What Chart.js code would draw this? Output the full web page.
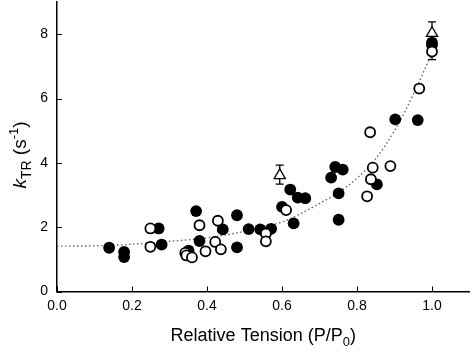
<!DOCTYPE html>
<html><head><meta charset="utf-8">
<script src="https://cdn.jsdelivr.net/npm/chart.js@4/dist/chart.umd.min.js"></script>
<style>html,body{margin:0;padding:0;background:#fff;}</style>
</head><body>
<canvas id="c" width="473" height="352"></canvas>
<script>
// Filled circles
const filledX = [0.139,0.179,0.179,0.271,0.279,0.351,0.371,0.380,0.442,0.480,0.480,0.511,0.542,0.571,0.600,0.622,0.642,0.662,0.631,0.742,0.762,0.731,0.751,0.751,0.853,0.902,0.962,1.000,1.000];
const filledY = [1.36,1.23,1.07,1.96,1.46,1.27,2.50,1.57,1.93,2.37,1.37,1.94,1.93,1.95,2.63,3.17,2.92,2.90,2.12,3.87,3.79,3.54,3.05,2.23,3.33,5.35,5.33,7.74,7.66];
// Open circles
const openX = [0.249,0.249,0.342,0.345,0.360,0.380,0.396,0.422,0.429,0.437,0.557,0.557,0.611,0.827,0.835,0.837,0.842,0.889,0.966,1.000];
const openY = [1.96,1.39,1.20,1.12,1.06,2.06,1.25,1.54,2.20,1.31,1.80,1.56,2.53,2.96,4.95,3.49,3.85,3.90,6.31,7.46];
// Open triangles with error bars
const triX = [0.594,1.000];
const triY = [3.61,8.03];
const triLow = [3.34,7.21];
const triHigh = [3.93,8.38];
// Dotted fit curve
const curveX = [0.0,0.1,0.2,0.3,0.4,0.5,0.6,0.65,0.7,0.75,0.8,0.85,0.9,0.95,1.0];
const curveY = [1.41,1.42,1.47,1.56,1.67,1.87,2.16,2.42,2.74,3.07,3.52,4.13,5.0,6.12,7.42];
// Axis ticks
const xTicks = [0.0,0.2,0.4,0.6,0.8,1.0];
const yTicks = [0,2,4,6,8];

const pts = (xs, ys) => xs.map((x,i)=>({x:x,y:ys[i]}));
const FONT = '"Liberation Sans", Arial, sans-serif';

const decor = {
  id:'decor',
  beforeDatasetsDraw(chart){
    const ctx = chart.ctx, xs = chart.scales.x, ys = chart.scales.y;
    ctx.save();
    ctx.strokeStyle = '#000'; ctx.lineWidth = 1.3;
    triX.forEach((x,i)=>{
      const px = xs.getPixelForValue(x);
      const lo = ys.getPixelForValue(triLow[i]), hi = ys.getPixelForValue(triHigh[i]);
      ctx.beginPath();
      ctx.moveTo(px, lo); ctx.lineTo(px, hi);
      ctx.moveTo(px-4, lo); ctx.lineTo(px+4, lo);
      ctx.moveTo(px-4, hi); ctx.lineTo(px+4, hi);
      ctx.stroke();
    });
    ctx.restore();
  },
  afterDraw(chart){
    const ctx = chart.ctx, xs = chart.scales.x, ys = chart.scales.y, a = chart.chartArea;
    ctx.save();
    ctx.strokeStyle = '#000'; ctx.lineWidth = 1;
    ctx.beginPath();
    xTicks.forEach(v=>{ const p = Math.round(xs.getPixelForValue(v))+0.5; ctx.moveTo(p, a.bottom); ctx.lineTo(p, a.bottom-5); });
    yTicks.forEach(v=>{ const p = Math.round(ys.getPixelForValue(v))+0.5; ctx.moveTo(a.left, p); ctx.lineTo(a.left+5, p); });
    ctx.stroke();
    // x title
    ctx.fillStyle = '#000';
    ctx.textBaseline = 'alphabetic';
    const main = '18px ' + FONT, sub = '13px ' + FONT;
    const parts = [['Relative Tension (P/P', main, 0], ['0', sub, 5], [')', main, 0]];
    let w = 0;
    parts.forEach(p=>{ ctx.font = p[1]; w += ctx.measureText(p[0]).width; });
    let x0 = (a.left + a.right)/2 - w/2;
    parts.forEach(p=>{ ctx.font = p[1]; ctx.fillText(p[0], x0, 341 + p[2]); x0 += ctx.measureText(p[0]).width; });
    // y title
    const yparts = [['k', 'italic 19px ' + FONT, 0], ['TR', '14px ' + FONT, 5], [' (s', '19px ' + FONT, 0], ['-1', '13px ' + FONT, -8], [')', '19px ' + FONT, 0]];
    let yw = 0;
    yparts.forEach(p=>{ ctx.font = p[1]; yw += ctx.measureText(p[0]).width; });
    ctx.translate(26, 155);
    ctx.rotate(-Math.PI/2);
    let t0 = -yw/2;
    yparts.forEach(p=>{ ctx.font = p[1]; ctx.fillText(p[0], t0, p[2]); t0 += ctx.measureText(p[0]).width; });
    ctx.restore();
  }
};

new Chart(document.getElementById('c'), {
  type:'scatter',
  data:{ datasets:[
    { label:'tri', data: pts(triX, triY), pointStyle:'triangle', pointRadius:6.5, backgroundColor:'#fff', borderColor:'#000', borderWidth:1.3, order:0 },
    { label:'open', data: pts(openX, openY), pointRadius:5, backgroundColor:'#fff', borderColor:'#000', borderWidth:1.8, order:1 },
    { label:'filled', data: pts(filledX, filledY), pointRadius:5.9, backgroundColor:'#000', borderColor:'#000', borderWidth:0, order:2 },
    { type:'line', label:'fit', data: pts(curveX, curveY), showLine:true, pointRadius:0, borderColor:'#666', borderWidth:1.4, borderDash:[1.5,2.5], cubicInterpolationMode:'monotone', fill:false, order:3 }
  ]},
  options:{
    responsive:false, animation:false, devicePixelRatio:1,
    layout:{ autoPadding:false, padding:{ left:0, right:3.5, top:2, bottom:0 } },
    plugins:{ legend:{display:false}, tooltip:{enabled:false} },
    scales:{
      x:{ type:'linear', min:0, max:1.1,
        afterBuildTicks(s){ s.ticks = xTicks.map(v=>({value:v})); },
        afterFit(s){ s.height = 60.5; s.paddingLeft = 0; s.paddingRight = 0; },
        grid:{ drawOnChartArea:false, drawTicks:false, color:'rgba(0,0,0,0)' },
        border:{ display:true, color:'#000', width:1.5 },
        ticks:{ padding:6, color:'#000', font:{ family:FONT, size:14 }, callback:v=>v.toFixed(1), maxRotation:0 }
      },
      y:{ type:'linear', min:0, max:9,
        afterBuildTicks(s){ s.ticks = yTicks.map(v=>({value:v})); },
        afterFit(s){ s.width = 57; s.paddingTop = 0; s.paddingBottom = 0; },
        grid:{ drawOnChartArea:false, drawTicks:false, color:'rgba(0,0,0,0)' },
        border:{ display:true, color:'#000', width:1.5 },
        ticks:{ padding:9, color:'#000', font:{ family:FONT, size:14 }, callback:v=>String(v) }
      }
    }
  },
  plugins:[decor]
});
</script>
</body></html>
